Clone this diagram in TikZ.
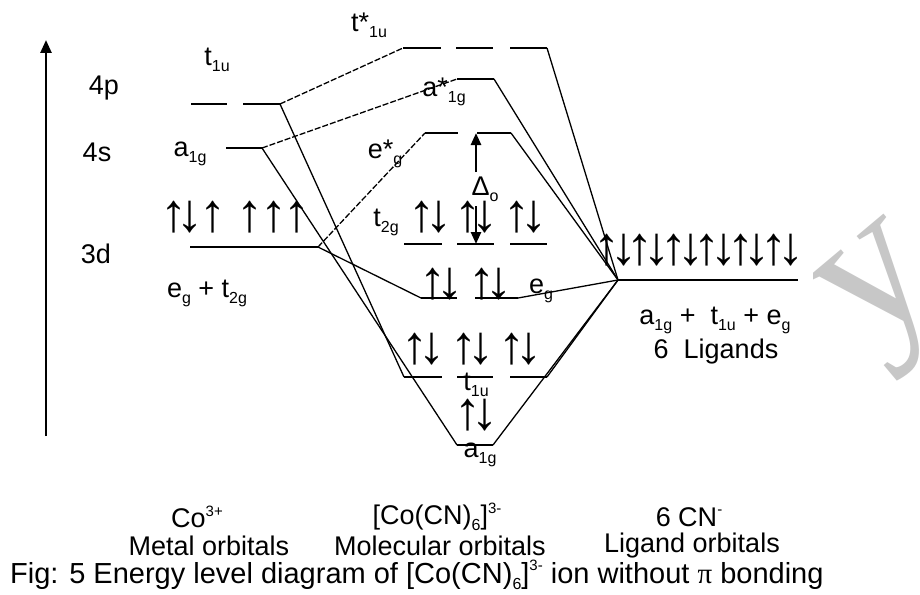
\documentclass[tikz,border=0pt]{standalone}
\usepackage{fontspec}
\setmainfont{Liberation Sans}
\newfontfamily\serifwm{Liberation Serif}
\usetikzlibrary{arrows.meta}

% subscripts and superscripts for orbital symbols
\newcommand\lsub[1]{\raisebox{-0.22em}{\fontsize{16}{16}\selectfont #1}}
\newcommand\lsup[1]{\raisebox{0.42em}{\fontsize{15}{15}\selectfont #1}}
% one electron pair: up and down arrows around a centre
\newcommand\epair[3]{%
  \node[el] (#1u) at ({#2-8.5},#3) {↑};
  \node[el] (#1d) at ({#2+8.5},#3) {↓};}

\begin{document}
\begin{tikzpicture}[x=1pt,y=-1pt,
  level/.style={line width=2.6pt},
  link/.style={line width=1.3pt},
  dlink/.style={line width=1.3pt, dash pattern=on 6pt off 2pt},
  lbl/.style={inner sep=0pt, font=\fontsize{27}{30}\selectfont},
  big/.style={inner sep=0pt, font=\fontsize{27}{30}\selectfont},
  el/.style={inner sep=0pt, font=\fontsize{54}{54}\selectfont\bfseries},
  tip/.style={-{Triangle[width=10pt,length=12pt]}},
]
\useasboundingbox (0,0) rectangle (920,594);

% faint watermark letter, clipped to its strip
\begin{scope}
  \clip (813,0) rectangle (920,594);
  \node[rotate=40, text=black!22, inner sep=0pt,
        font=\fontsize{205}{205}\selectfont\serifwm] (wm) at (890,299) {y};
\end{scope}

% energy axis
\coordinate (axB) at (46,436);
\coordinate (axT) at (46,40);
\draw[line width=2.6pt, -{Triangle[width=11pt,length=13pt]}] (axB) -- (axT);

% ---- metal orbitals ----
\draw[level] (191,104) -- (227,104);
\draw[level] (243,104) -- (280,104) coordinate (mP);
\draw[level] (226,148) -- (262,148) coordinate (mS);
\draw[level] (190,247) -- (318,247) coordinate (mD);

\node[lbl] (l4p) at (104,88) {4p};
\node[lbl] (l4s) at (97,152) {4s};
\node[lbl] (l3d) at (96,254) {3d};
\node[lbl] (lmt) at (217,60) {t\lsub{1u}};
\node[lbl] (lma) at (190,154) {a\lsub{1g}};
\node[lbl] (lmd) at (207,293) {e\lsub{g} + t\lsub{2g}};

\foreach \x/\g [count=\i] in {174/↑,190/↓,213/↑,250/↑,274/↑,297/↑}
  \node[el] (me\i) at (\x,217) {\g};

% ---- molecular orbitals ----
\draw[level] (403,48) coordinate (tsL) -- (441,48);
\draw[level] (456,48) -- (493,48);
\draw[level] (510,48) -- (547,48) coordinate (tsR);

\draw[level] (457,79) coordinate (asL) -- (494,79) coordinate (asR);

\draw[level] (425,133) coordinate (esL) -- (458,133);
\draw[level] (477,133) -- (511,133) coordinate (esR);

\draw[level] (404,244) -- (442,244);
\draw[level] (457,244) -- (494,244);
\draw[level] (510,244) -- (547,244);

\draw[level] (421,298) coordinate (egL) -- (457,298);
\draw[level] (475,298) -- (518,298) coordinate (egR);

\draw[level] (404,377) coordinate (tbL) -- (442,377);
\draw[level] (457,377) -- (493,377);
\draw[level] (510,377) -- (547,377) coordinate (tbR);

\draw[level] (457,445) coordinate (abL) -- (493,445) coordinate (abR);

% ---- ligand orbitals ----
\draw[level] (618,280) coordinate (lig) -- (798,280);

% ---- correlation lines ----
\draw[dlink] (mP) -- (tsL);
\draw[dlink] (mS) -- (asL);
\draw[dlink] (mD) -- (esL);
\draw[link] (mP) -- (tbL);
\draw[link] (mS) -- (abL);
\draw[link] (mD) -- (egL);
\foreach \t in {tsR,asR,esR,egR,tbR,abR}
  \draw[link] (lig) -- (\t);

% ---- MO labels ----
\node[lbl] (lts) at (369,25) {t*\lsub{1u}};
\node[lbl] (las) at (444,92) {a*\lsub{1g}};
\node[lbl] (les) at (385,154) {e*\lsub{g}};
\node[lbl] (lt2) at (386,222) {t\lsub{2g}};
\node[lbl] (leg) at (541,291) {e\lsub{g}};
\node[lbl] (ltb) at (476,385) {t\lsub{1u}};
\node[lbl] (lab) at (480,455) {a\lsub{1g}};

% crystal field splitting
\node[lbl] (delta) at (485,189) {Δ\lsub{o}};
\coordinate (dA) at (476,172);
\coordinate (dT) at (476,133);
\coordinate (dB) at (476,206);
\coordinate (dD) at (476,244);
\draw[line width=2.6pt, tip] (dA) -- (dT);
\draw[line width=2.6pt, tip] (dB) -- (dD);

% electrons
\epair{t2a}{430}{217}
\epair{t2b}{476}{217}
\epair{t2c}{525}{217}
\epair{ega}{441}{284}
\epair{egb}{490}{284}
\epair{tua}{423}{349}
\epair{tub}{472}{349}
\epair{tuc}{520}{349}
\epair{aga}{476}{415}

\foreach \i in {0,...,5} {
  \node[el] (lu\i) at ({607+33.4*\i},250) {↑};
  \node[el] (ld\i) at ({623.7+33.4*\i},250) {↓};
}

\node[lbl] (lgs) at (715,320) {a\lsub{1g} + \ t\lsub{1u} + e\lsub{g}};
\node[lbl] (lgn) at (716,352) {6 \ Ligands};

% ---- column titles and caption ----
\node[big] (c1a) at (197,517) {Co\lsup{3+}};
\node[big] (c1b) at (209,546) {Metal orbitals};
\node[big] (c2a) at (437,517) {[Co(CN)\lsub{6}]\lsup{3-}};
\node[big] (c2b) at (440,546) {Molecular orbitals};
\node[big] (c3a) at (689,517) {6 CN\lsup{-}};
\node[big] (c3b) at (692,546) {Ligand orbitals};
\node[inner sep=0pt, anchor=west, font=\fontsize{29}{30}\selectfont] (cap) at (10,575)
  {Fig: 5 Energy level diagram of [Co(CN)\lsub{6}]\lsup{3-} ion without {\serifwm π} bonding};
\end{tikzpicture}
\end{document}
